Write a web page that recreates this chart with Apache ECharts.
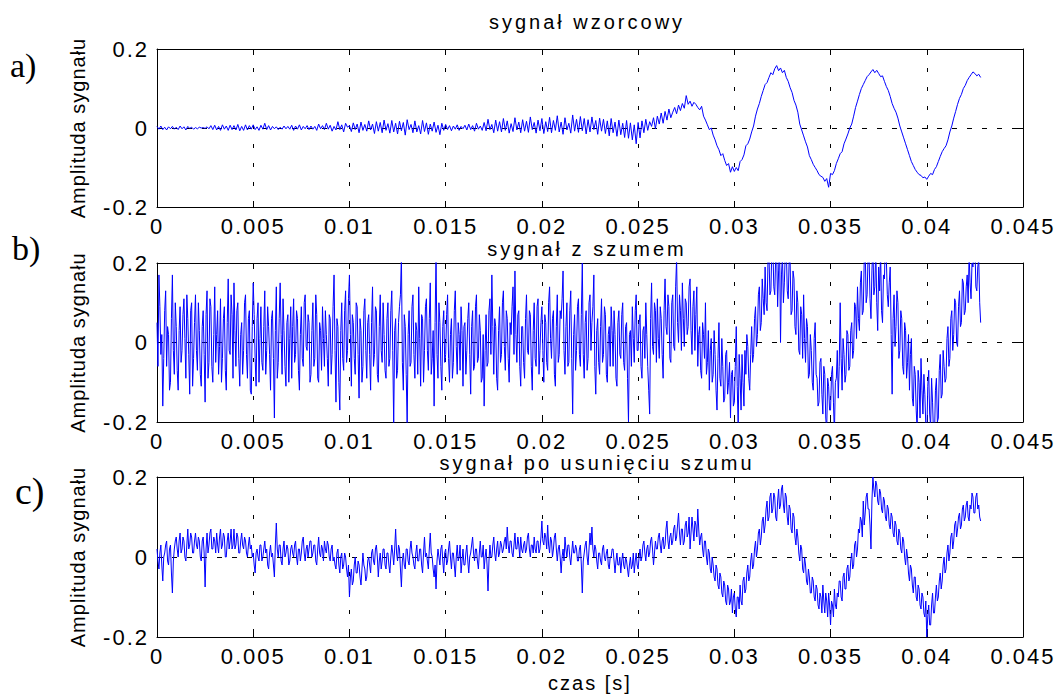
<!DOCTYPE html>
<html>
<head>
<meta charset="utf-8">
<script src="https://cdn.jsdelivr.net/npm/echarts@6/dist/echarts.min.js"></script>
<style>
html,body{margin:0;padding:0;background:#fff;}
#main{width:1058px;height:697px;}
</style>
</head>
<body>
<div id="main"></div>
<script>
// sampling steps of the recorded signals [s]
const dtWzorcowy = 0.0001;
const dtPomiar = 0.00005;

// panel titles and panel letters
const panelTitles = ['sygnał wzorcowy', 'sygnał z szumem', 'sygnał po usunięciu szumu'];
const panelLetters = ['a)', 'b)', 'c)'];
const yAxisName = 'Amplituda sygnału';
const xAxisName = 'czas [s]';

// axis ticks
const xTicks = [0, 0.005, 0.01, 0.015, 0.02, 0.025, 0.03, 0.035, 0.04, 0.045];
const yTicks = [-0.2, 0, 0.2];

// a) sygnał wzorcowy (step 0.0001 s)
const sygnalWzorcowy = [
0.004,-0.003,0.005,-0.004,0.002,-0.005,0.003,-0.002,0.004,-0.003,
0.002,-0.004,0.005,-0.002,0.003,-0.005,0.004,-0.001,0.002,-0.003,
0.001,-0.002,0.002,0.000,0.001,-0.001,0.003,-0.002,0.006,-0.004,
0.007,-0.005,0.004,-0.006,0.008,-0.003,0.005,-0.006,0.007,-0.004,
0.006,-0.005,0.009,-0.007,0.004,-0.006,0.008,-0.005,0.006,-0.003,
0.008,-0.004,0.003,-0.006,0.007,-0.003,0.012,-0.004,0.006,-0.005,
0.004,-0.002,0.003,-0.004,0.002,-0.003,0.005,-0.002,0.004,-0.003,
0.007,-0.006,0.005,-0.003,0.008,-0.005,0.004,-0.002,0.006,-0.004,
0.005,-0.003,0.004,-0.006,0.010,-0.002,0.006,-0.004,0.012,-0.003,
0.007,-0.008,0.004,-0.005,0.016,-0.004,0.008,-0.010,0.012,0.002,
0.006,-0.009,0.013,-0.004,0.010,-0.012,0.015,-0.006,0.009,-0.008,
0.018,-0.005,0.010,-0.014,0.016,-0.008,0.014,-0.012,0.020,-0.006,
0.011,-0.013,0.019,-0.010,0.012,-0.015,0.017,-0.007,0.014,-0.018,
0.021,-0.004,0.009,-0.012,0.018,-0.010,0.006,-0.015,0.019,-0.009,
0.013,-0.016,0.010,-0.008,0.015,-0.011,0.007,-0.017,0.012,-0.006,
0.009,-0.004,0.006,-0.007,0.005,-0.003,0.008,-0.006,0.004,-0.002,
0.007,-0.005,0.010,-0.004,0.006,-0.008,0.012,-0.003,0.005,-0.006,
0.014,-0.007,0.022,-0.004,0.009,-0.012,0.020,-0.008,0.016,-0.010,
0.024,-0.006,0.018,-0.013,0.011,-0.009,0.026,-0.005,0.015,-0.012,
0.021,-0.008,0.017,-0.011,0.028,-0.004,0.014,-0.013,0.020,-0.007,
0.024,-0.014,0.016,-0.009,0.027,-0.012,0.019,-0.006,0.031,-0.010,
0.015,-0.016,0.026,-0.005,0.012,-0.013,0.033,-0.008,0.022,-0.011,
0.029,-0.007,0.024,-0.015,0.021,-0.010,0.028,-0.004,0.019,-0.016,
0.025,-0.008,0.022,-0.014,0.018,-0.020,0.024,-0.012,0.015,-0.021,
0.020,-0.017,0.012,-0.024,0.019,-0.026,0.013,-0.030,0.008,-0.040,
0.014,-0.025,0.018,-0.012,0.022,-0.006,0.016,0.004,0.026,-0.002,
0.030,0.010,0.038,0.012,0.042,0.020,0.048,0.026,0.040,0.052,
0.036,0.058,0.044,0.062,0.050,0.082,0.060,0.068,0.055,0.065,
0.060,0.052,0.046,0.055,0.030,0.020,0.008,-0.004,0.000,-0.018,
-0.030,-0.045,-0.055,-0.070,-0.065,-0.082,-0.095,-0.090,-0.112,-0.098,
-0.110,-0.100,-0.108,-0.085,-0.080,-0.068,-0.045,-0.040,-0.028,-0.010,
0.005,0.030,0.048,0.062,0.080,0.095,0.110,0.115,0.128,0.140,
0.135,0.150,0.158,0.145,0.152,0.140,0.146,0.128,0.118,0.102,
0.090,0.070,0.058,0.040,0.010,-0.005,-0.020,-0.035,-0.048,-0.070,
-0.080,-0.092,-0.100,-0.108,-0.118,-0.122,-0.125,-0.135,-0.128,-0.150,
-0.115,-0.118,-0.108,-0.090,-0.078,-0.065,-0.060,-0.040,-0.028,-0.015,
0.000,0.010,0.030,0.052,0.068,0.085,0.100,0.110,0.120,0.130,
0.135,0.142,0.148,0.140,0.146,0.138,0.130,0.132,0.118,0.105,
0.095,0.080,0.062,0.050,0.040,0.025,0.005,-0.010,-0.025,-0.040,
-0.055,-0.070,-0.085,-0.095,-0.105,-0.112,-0.118,-0.120,-0.126,-0.124,
-0.130,-0.122,-0.115,-0.118,-0.105,-0.098,-0.085,-0.072,-0.060,-0.052,
-0.045,-0.030,-0.010,0.005,0.025,0.042,0.060,0.075,0.085,0.100,
0.108,0.120,0.128,0.135,0.142,0.138,0.132,0.136,0.128
];

// b) sygnał z szumem (step 0.00005 s)
const sygnalZSzumem = [
0.05,-0.06,0.17,0.09,-0.03,0.02,-0.16,-0.04,0.08,0.13,-0.06,0.04,0.02,-0.12,-0.10,0.06,0.17,-0.02,-0.08,0.10,
0.04,-0.07,-0.12,0.03,0.09,-0.05,-0.02,0.07,0.11,0.01,-0.09,0.12,0.06,-0.03,-0.13,0.08,0.10,-0.11,-0.04,0.05,
0.12,-0.02,-0.07,0.10,0.03,-0.08,-0.11,0.04,0.08,-0.03,-0.15,0.07,0.13,-0.09,-0.05,0.11,0.09,-0.06,-0.10,0.02,
0.14,-0.05,0.02,0.08,-0.08,-0.01,0.11,-0.10,-0.04,0.06,0.09,-0.07,-0.12,0.05,0.16,-0.02,-0.03,0.12,0.07,-0.09,
0.15,0.03,-0.06,0.08,0.10,-0.04,-0.11,0.02,0.05,-0.08,-0.02,0.10,0.12,-0.03,-0.09,0.06,0.08,-0.12,-0.13,0.04,
0.15,0.07,-0.04,-0.11,0.06,0.10,-0.10,0.01,0.09,-0.05,-0.07,0.04,0.13,-0.08,-0.02,0.09,0.04,-0.03,-0.12,0.06,
0.08,-0.04,-0.19,0.03,0.14,-0.09,-0.05,0.06,0.15,0.02,-0.08,0.11,0.03,-0.06,-0.11,0.05,0.07,-0.10,0.01,0.09,
-0.09,0.04,0.11,-0.05,-0.03,0.08,0.06,-0.07,-0.12,0.02,0.09,-0.04,-0.06,0.10,0.12,-0.01,-0.02,0.07,0.05,-0.10,
-0.08,0.03,0.10,-0.06,-0.04,0.12,0.07,-0.09,-0.10,0.05,0.03,-0.07,0.09,0.01,-0.06,0.08,0.02,-0.04,-0.11,0.07,
0.06,-0.08,-0.03,0.09,0.17,-0.02,-0.15,0.06,0.04,-0.10,-0.17,0.03,0.10,-0.04,-0.07,0.08,0.13,-0.05,-0.02,0.11,
0.17,0.02,-0.11,0.07,0.05,-0.04,-0.08,0.10,0.09,-0.03,-0.14,0.06,0.03,-0.10,-0.06,0.08,0.11,-0.02,-0.09,0.05,
0.07,-0.03,-0.12,0.05,0.14,-0.06,-0.03,0.09,0.08,-0.08,-0.10,0.04,0.12,-0.02,-0.05,0.10,0.02,-0.07,-0.09,0.06,
0.10,-0.06,-0.04,0.08,0.13,-0.02,-0.21,0.03,0.06,-0.09,-0.07,0.05,0.09,0.12,0.22,-0.05,-0.12,0.07,0.04,-0.08,
-0.21,0.02,0.08,-0.06,-0.05,0.09,0.12,-0.03,-0.09,0.05,0.03,-0.08,0.14,0.01,-0.11,0.07,0.06,-0.10,-0.02,0.09,
0.11,-0.02,-0.07,0.06,0.15,-0.08,-0.04,0.03,-0.16,0.05,0.22,-0.03,-0.09,0.10,0.05,-0.06,-0.12,0.04,0.08,-0.05,
-0.03,0.07,0.12,-0.04,-0.10,0.02,0.06,-0.09,-0.05,0.08,0.13,-0.01,-0.08,0.05,0.02,-0.07,0.09,0.03,-0.11,0.04,
0.05,-0.08,-0.02,0.06,0.10,-0.03,-0.13,0.04,0.08,-0.07,-0.06,0.09,0.12,-0.05,-0.04,0.07,0.03,-0.10,-0.09,0.02,
-0.16,-0.02,0.07,-0.06,-0.05,0.08,0.11,-0.03,0.17,0.04,-0.08,0.06,0.04,-0.09,-0.12,0.03,0.09,-0.05,-0.03,0.10,
0.13,-0.01,-0.07,0.08,0.06,-0.04,-0.10,0.05,0.02,0.09,0.14,-0.03,0.18,0.02,-0.05,0.07,0.08,-0.06,-0.11,0.04,
0.04,-0.05,-0.09,0.06,0.12,-0.02,-0.03,0.08,0.07,-0.06,-0.12,0.03,0.10,-0.04,-0.06,0.09,0.11,-0.08,-0.02,0.05,
0.09,-0.02,-0.10,0.07,0.05,-0.05,-0.07,0.10,0.14,0.01,-0.04,0.06,0.08,-0.08,-0.11,0.04,0.12,-0.05,-0.03,0.08,
0.06,0.11,0.18,-0.02,-0.08,0.04,0.10,-0.06,-0.05,0.08,0.13,-0.04,-0.18,0.02,0.07,-0.07,-0.02,0.09,0.11,-0.03,
-0.06,0.07,0.20,-0.03,-0.09,0.05,0.08,-0.07,-0.04,0.10,0.12,-0.02,0.05,0.09,0.17,-0.06,-0.13,0.03,0.06,-0.05,
-0.08,0.04,0.11,-0.05,-0.03,0.09,0.07,-0.08,-0.10,0.02,0.04,-0.06,0.09,0.03,-0.06,0.08,0.02,-0.09,-0.11,0.05,
0.08,-0.03,-0.04,0.07,0.10,-0.05,-0.07,0.04,0.05,-0.09,-0.20,0.02,0.03,-0.06,0.09,0.01,-0.05,0.08,0.12,-0.02,
-0.02,0.05,0.07,-0.06,-0.09,0.03,0.04,-0.04,0.10,0.02,-0.06,-0.12,-0.18,0.06,0.15,-0.01,-0.03,0.10,0.08,-0.05,
0.11,0.01,-0.04,0.09,0.06,-0.03,-0.09,0.08,0.16,0.04,0.02,0.12,0.09,-0.04,-0.05,0.10,0.12,-0.01,-0.02,0.14,
0.21,0.05,0.00,0.12,0.08,-0.02,0.15,0.06,-0.01,0.11,0.10,0.02,0.04,0.14,0.16,0.03,-0.03,0.09,0.13,-0.02,
0.07,0.14,-0.06,0.02,0.04,-0.07,-0.09,0.05,0.02,-0.04,0.10,-0.08,-0.05,0.03,-0.12,-0.02,0.01,-0.10,-0.08,0.03,
-0.03,-0.12,-0.17,-0.04,0.05,-0.09,-0.11,0.01,-0.06,-0.15,-0.14,-0.03,-0.02,-0.13,-0.10,-0.05,-0.19,-0.08,-0.07,-0.16,
-0.15,-0.06,0.04,-0.11,-0.21,-0.03,-0.09,-0.17,-0.03,-0.10,-0.16,-0.02,-0.08,0.02,-0.01,-0.09,-0.12,-0.03,0.04,-0.05,
-0.03,0.06,0.09,-0.01,0.02,0.12,0.14,0.03,0.05,0.16,0.11,0.07,0.19,0.10,0.08,0.21,0.22,0.12,0.13,0.24,
0.25,0.14,0.12,0.22,0.23,0.09,0.18,0.26,0.00,0.17,0.22,0.10,0.15,0.23,0.24,0.13,0.11,0.21,0.20,0.07,
0.08,0.18,0.16,0.04,0.02,0.13,0.10,-0.02,-0.03,0.09,0.07,-0.04,0.12,0.01,-0.05,0.06,0.04,-0.09,-0.08,0.02,
-0.02,-0.10,-0.12,0.01,0.05,-0.08,-0.09,-0.16,-0.15,-0.05,-0.04,-0.13,-0.18,-0.06,-0.08,-0.19,-0.22,-0.09,-0.11,-0.17,
-0.17,-0.08,-0.06,-0.15,-0.23,-0.10,-0.09,-0.02,-0.14,-0.06,0.10,-0.04,-0.12,0.01,-0.03,-0.10,-0.08,0.03,0.02,-0.07,
-0.06,0.03,0.05,-0.04,-0.02,0.10,0.09,0.01,0.14,0.06,0.03,0.15,0.18,0.07,0.08,0.21,0.24,0.10,0.12,0.22,
0.22,0.11,0.06,0.18,0.25,0.12,0.14,0.24,0.10,0.03,0.19,0.13,0.23,0.08,0.05,0.17,0.16,0.26,0.21,0.12,
0.09,0.15,0.19,0.02,-0.13,0.06,0.12,-0.01,0.04,0.13,0.10,-0.04,-0.02,0.08,0.06,-0.06,-0.08,0.05,0.03,-0.09,
-0.05,0.02,-0.12,-0.03,0.01,-0.14,-0.16,-0.06,-0.08,-0.17,-0.22,-0.07,-0.10,-0.19,-0.04,-0.12,-0.18,-0.08,-0.13,-0.21,
-0.25,-0.11,-0.07,-0.18,-0.21,-0.09,-0.15,-0.23,-0.24,-0.12,-0.09,-0.20,-0.19,-0.07,-0.03,-0.14,-0.13,-0.02,-0.06,-0.10,
-0.09,0.01,0.04,-0.06,-0.04,0.06,0.08,-0.02,0.02,0.11,0.10,0.00,-0.01,0.09,0.13,0.04,0.05,0.16,0.15,0.07,
0.08,0.14,0.17,0.10,0.22,0.15,0.11,0.20,0.19,0.24,0.25,0.14,0.13,0.19,0.21,0.10,0.05
];

// c) sygnał po usunięciu szumu (step 0.00005 s)
const sygnalPoUsunieciu = [
0.02,-0.01,-0.03,0.01,0.03,-0.02,-0.06,0.00,0.01,0.03,0.04,-0.01,-0.02,0.02,0.03,-0.04,-0.09,-0.01,0.02,0.04,
0.05,0.02,0.00,0.04,0.06,0.01,0.02,0.05,0.04,0.00,-0.01,0.03,0.07,0.02,0.03,0.06,0.05,0.01,0.01,0.04,
0.06,0.03,0.02,0.05,0.04,0.00,-0.01,0.04,0.05,0.01,-0.075,0.02,0.06,0.01,0.03,0.06,0.07,0.02,0.02,0.05,
0.04,0.01,0.06,0.03,0.01,0.05,0.07,0.02,0.03,0.06,0.05,0.00,0.00,0.04,0.06,0.02,0.04,0.07,0.02,0.03,
0.07,0.02,0.03,0.06,0.05,0.01,0.01,0.04,0.06,0.03,0.02,0.05,0.04,0.01,0.00,0.03,0.05,0.02,0.03,0.00,
0.01,-0.02,-0.04,0.01,0.02,0.00,-0.01,0.03,0.03,-0.01,0.00,0.02,0.04,0.01,0.02,-0.02,-0.03,0.01,0.03,0.00,
0.01,-0.02,-0.05,0.03,0.085,0.02,0.00,0.03,0.03,-0.01,-0.02,0.02,0.04,0.00,0.01,0.03,0.02,-0.02,-0.01,0.02,
0.03,0.01,0.00,0.03,0.04,0.00,-0.02,0.02,0.02,-0.01,0.01,0.04,0.05,0.01,-0.01,0.02,0.03,0.00,0.02,0.04,
0.04,0.00,0.01,0.03,0.03,-0.01,-0.02,0.02,0.05,0.01,0.00,0.03,0.02,-0.01,0.04,0.02,0.01,0.04,0.03,0.00,
-0.01,0.02,0.03,-0.01,0.00,-0.02,-0.03,0.01,0.02,-0.02,-0.04,0.00,0.01,-0.03,-0.02,0.01,0.00,-0.03,-0.05,-0.02,
-0.10,-0.05,-0.03,-0.07,-0.06,-0.02,0.00,-0.04,-0.04,-0.01,-0.02,-0.05,-0.07,-0.03,0.01,-0.02,-0.03,-0.06,-0.05,-0.01,
0.00,-0.02,-0.04,0.01,0.02,-0.01,-0.02,0.02,0.03,0.00,-0.05,-0.01,0.01,-0.03,-0.01,0.02,0.02,-0.02,-0.03,0.01,
0.01,-0.02,-0.04,0.00,0.03,0.01,-0.02,0.02,0.07,0.01,-0.01,0.03,0.02,-0.03,-0.075,-0.01,0.01,-0.02,-0.03,0.02,
0.02,-0.01,-0.02,0.02,0.04,0.01,0.00,-0.02,-0.03,0.01,0.03,-0.01,-0.01,0.02,0.02,-0.02,-0.04,0.01,0.05,0.00,
0.01,-0.01,-0.03,0.02,0.06,0.01,0.00,-0.03,-0.05,-0.02,-0.08,-0.01,0.02,0.00,-0.02,0.02,0.03,-0.01,-0.04,0.01,
0.02,-0.02,-0.01,0.02,0.04,0.00,-0.03,0.01,0.01,-0.02,-0.05,0.00,0.03,-0.01,0.00,0.03,-0.04,-0.01,0.02,-0.02,
-0.02,0.01,0.03,-0.01,-0.04,0.00,0.01,0.03,0.05,0.01,-0.01,0.02,0.02,-0.01,-0.03,0.01,0.04,0.00,0.00,0.03,
-0.03,0.00,0.02,-0.02,-0.085,-0.01,0.03,0.00,0.00,0.03,0.05,0.01,-0.01,0.02,0.04,0.00,0.01,0.04,0.03,0.01,
0.02,0.04,0.05,0.02,0.075,0.03,0.01,0.04,0.04,0.01,0.00,0.03,0.06,0.02,0.02,0.05,0.03,0.00,0.05,0.02,
0.01,0.03,0.04,0.01,0.02,0.05,0.06,0.02,0.00,0.03,0.03,0.01,0.05,0.02,0.01,0.04,0.04,0.01,0.02,0.05,
0.09,0.04,0.03,0.06,0.05,0.02,0.08,0.03,0.01,0.05,0.04,0.00,0.02,0.05,0.06,0.02,-0.01,0.02,0.03,0.00,
-0.04,0.00,0.02,-0.01,0.05,0.02,0.00,0.03,0.03,0.00,-0.02,0.01,0.04,0.01,0.01,0.03,0.02,-0.01,-0.01,0.02,
0.03,-0.02,-0.09,-0.01,0.01,0.03,0.04,0.00,-0.02,0.02,0.06,0.03,0.075,0.02,0.00,0.03,0.02,-0.01,-0.03,0.01,
0.01,-0.01,-0.02,0.02,0.03,0.00,-0.01,0.01,0.02,-0.02,-0.03,0.00,0.00,0.02,0.02,-0.01,-0.04,-0.01,0.01,-0.02,
-0.02,0.00,-0.04,-0.01,0.01,-0.02,-0.03,0.00,-0.01,-0.03,-0.05,-0.02,0.00,-0.03,-0.02,0.01,-0.04,-0.01,0.01,-0.02,
-0.03,0.00,0.02,-0.01,0.00,0.03,0.04,0.01,-0.01,0.02,0.03,0.00,0.01,0.04,0.05,0.02,-0.02,0.01,0.04,0.02,
0.02,0.05,0.06,0.03,0.01,0.04,0.05,0.02,0.03,0.07,0.09,0.04,0.02,0.05,0.06,0.03,0.04,0.07,0.08,0.04,
0.05,0.08,0.11,0.06,0.03,0.07,0.07,0.03,0.04,0.08,0.09,0.05,0.06,0.10,0.02,0.06,0.10,0.07,0.04,0.09,
0.08,0.05,0.12,0.07,0.03,0.05,0.06,0.02,0.00,0.04,0.04,0.00,-0.02,0.02,0.01,-0.03,-0.04,0.00,-0.02,-0.05,
-0.06,-0.02,-0.03,-0.07,-0.08,-0.04,-0.05,-0.09,-0.10,-0.06,-0.07,-0.11,-0.12,-0.07,-0.08,-0.12,-0.11,-0.08,-0.14,-0.10,
-0.09,-0.13,-0.15,-0.10,-0.10,-0.13,-0.07,-0.11,-0.12,-0.06,-0.05,-0.09,-0.08,-0.04,-0.02,-0.06,-0.05,-0.01,0.01,-0.03,
-0.02,0.02,0.04,0.00,0.02,0.06,0.07,0.03,0.05,0.09,0.10,0.06,0.08,0.12,0.14,0.09,0.10,0.15,0.16,0.11,
0.12,0.16,0.15,0.10,0.09,0.14,0.17,0.12,0.13,0.17,0.18,0.13,0.11,0.16,0.15,0.10,0.08,0.13,0.12,0.07,
0.06,0.11,0.10,0.05,0.03,0.07,0.05,0.01,-0.01,0.03,0.02,-0.03,-0.04,0.00,-0.02,-0.06,-0.07,-0.03,-0.05,-0.09,
-0.09,-0.05,-0.06,-0.10,-0.11,-0.07,-0.08,-0.12,-0.13,-0.09,-0.10,-0.14,-0.07,-0.11,-0.14,-0.09,-0.11,-0.15,-0.09,-0.12,
-0.17,-0.11,-0.12,-0.15,-0.08,-0.12,-0.13,-0.09,-0.10,-0.06,-0.06,-0.10,-0.11,-0.05,-0.04,-0.08,-0.08,-0.03,-0.02,-0.06,
-0.05,-0.01,0.01,-0.03,-0.02,0.03,0.04,0.00,0.02,0.07,0.06,0.10,0.09,0.05,0.14,0.08,0.11,0.15,0.16,0.12,
0.12,0.08,0.02,0.14,0.20,0.17,0.15,0.19,0.18,0.14,0.13,0.17,0.16,0.12,0.11,0.15,0.14,0.10,0.09,0.13,
0.12,0.08,0.07,0.11,0.10,0.06,0.05,0.09,0.08,0.04,0.03,0.07,0.06,0.02,0.01,0.05,0.04,0.00,-0.02,0.02,
0.00,-0.04,-0.06,-0.02,-0.03,-0.07,-0.09,-0.05,-0.05,-0.10,-0.11,-0.07,-0.08,-0.12,-0.13,-0.09,-0.10,-0.14,-0.15,-0.11,
-0.20,-0.15,-0.12,-0.17,-0.17,-0.12,-0.09,-0.14,-0.14,-0.10,-0.07,-0.11,-0.10,-0.06,-0.04,-0.08,-0.06,-0.02,0.00,-0.04,
-0.03,0.01,0.03,-0.01,0.01,0.05,0.06,0.02,0.04,0.08,0.09,0.05,0.07,0.10,0.11,0.07,0.08,0.12,0.13,0.09,
0.10,0.13,0.14,0.10,0.09,0.13,0.12,0.16,0.15,0.11,0.11,0.15,0.16,0.12,0.13,0.10,0.09
];

const signals = [sygnalWzorcowy, sygnalZSzumem, sygnalPoUsunieciu];
const steps = [dtWzorcowy, dtPomiar, dtPomiar];

function toPairs(arr, step) {
  return arr.map((v, i) => [+(i * step).toFixed(5), v]);
}

const FONT = '"Liberation Sans", Arial, sans-serif';
const gridTops = [49, 263, 477];
const gridHeights = [158, 159, 160];

const grid = [], xAxis = [], yAxis = [], series = [];
for (let i = 0; i < 3; i++) {
  grid.push({ left: 157, width: 866, top: gridTops[i], height: gridHeights[i], outerBoundsMode: 'none', containLabel: false, show: false });
  const tick = { show: true, inside: true, length: 6, lineStyle: { color: '#000', width: 1 } };
  const line = { show: true, onZero: false, lineStyle: { color: '#000', width: 1 } };
  xAxis.push({
    type: 'value', gridIndex: i, position: 'bottom', min: xTicks[0], max: xTicks[xTicks.length - 1], interval: 0.005,
    axisLine: line, axisTick: tick,
    axisLabel: { show: true, color: '#000', fontSize: 22, fontFamily: FONT, margin: 8,
      formatter: v => String(+(+v).toFixed(3)), showMinLabel: true, showMaxLabel: true, hideOverlap: false },
    splitLine: { show: true, lineStyle: { color: '#000', width: 1, type: [4, 15] } },
    name: i === 2 ? xAxisName : '', nameLocation: 'middle', nameGap: 36,
    nameTextStyle: { color: '#000', fontSize: 20, fontFamily: FONT }
  });
  xAxis.push({
    type: 'value', gridIndex: i, position: 'top', min: xTicks[0], max: xTicks[xTicks.length - 1], interval: 0.005,
    axisLine: line, axisTick: tick, axisLabel: { show: false }, splitLine: { show: false }
  });
  yAxis.push({
    type: 'value', gridIndex: i, position: 'left', min: yTicks[0], max: yTicks[yTicks.length - 1], interval: 0.2,
    axisLine: line, axisTick: tick,
    axisLabel: { show: true, color: '#000', fontSize: 22, fontFamily: FONT, margin: 8,
      formatter: v => String(+(+v).toFixed(3)), showMinLabel: true, showMaxLabel: true },
    splitLine: { show: true, lineStyle: { color: '#000', width: 1, type: [5, 10] } },
    name: yAxisName, nameLocation: 'middle', nameRotate: 90, nameGap: 69,
    nameTextStyle: { color: '#000', fontSize: 20, fontFamily: FONT }
  });
  yAxis.push({
    type: 'value', gridIndex: i, position: 'right', min: yTicks[0], max: yTicks[yTicks.length - 1], interval: 0.2,
    axisLine: line, axisTick: tick, axisLabel: { show: false }, splitLine: { show: false }
  });
  series.push({
    type: 'line', xAxisIndex: 2 * i, yAxisIndex: 2 * i, data: toPairs(signals[i], steps[i]),
    showSymbol: false, symbol: 'none', clip: true, sampling: null,
    lineStyle: { color: '#0000ff', width: 1 }, itemStyle: { color: '#0000ff' }, z: 3
  });
}

const titleX = [587, 587, 597];
const titleY = [22, 249, 463];
const letterX = [10, 12, 15];
const letterY = [82, 265, 510];
const letterSize = [34, 34, 38];
const graphic = [];
for (let i = 0; i < 3; i++) {
  graphic.push({ type: 'text', x: titleX[i], y: titleY[i], z: 10,
    style: { text: panelTitles[i], font: '20px ' + FONT, fill: '#000', align: 'center', verticalAlign: 'middle', textAlign: 'center', textVerticalAlign: 'middle' } });
  graphic.push({ type: 'text', x: letterX[i], y: letterY[i], z: 10,
    style: { text: panelLetters[i], font: letterSize[i] + 'px "Liberation Serif", "Times New Roman", serif', fill: '#000', align: 'left', verticalAlign: 'bottom', textAlign: 'left', textVerticalAlign: 'bottom' } });
}

const chart = echarts.init(document.getElementById('main'), null, { renderer: 'svg' });
chart.setOption({
  animation: false,
  backgroundColor: '#fff',
  grid, xAxis, yAxis, series, graphic
});

function applySpacing() {
  document.querySelectorAll('#main svg text').forEach(el => {
    const s = el.textContent || '';
    let ls = '2px';
    if (s.indexOf('sygnał') === 0) ls = '3px';
    else if (s.indexOf('Amplituda') === 0) ls = '1px';
    else if (/\)$/.test(s)) ls = '0px';
    el.style.letterSpacing = ls;
  });
}
applySpacing();
chart.on('finished', applySpacing);
setTimeout(applySpacing, 50);
</script>
</body>
</html>
